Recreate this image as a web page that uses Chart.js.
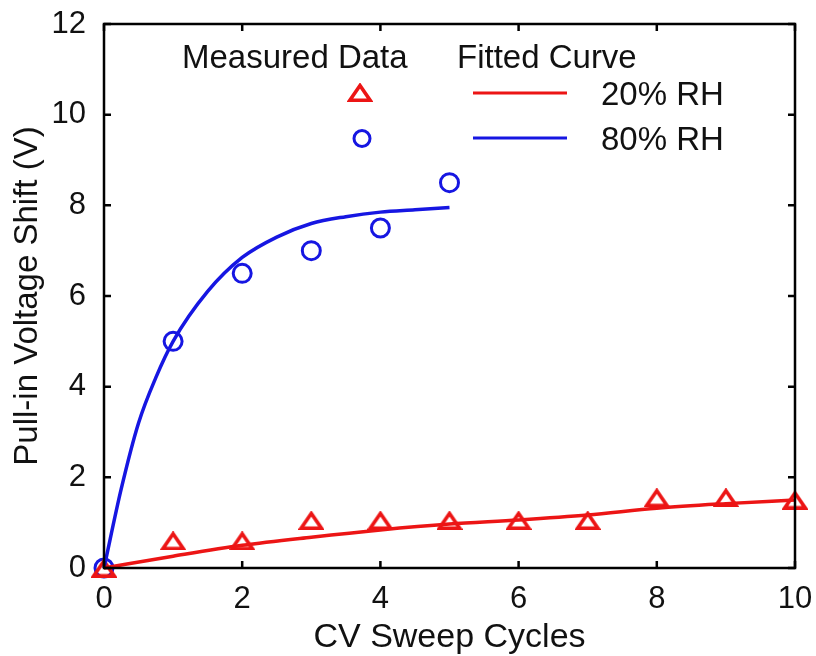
<!DOCTYPE html>
<html>
<head>
<meta charset="utf-8">
<script src="https://cdn.jsdelivr.net/npm/chart.js@4.4.1/dist/chart.umd.min.js"></script>
<style>
  html, body { margin: 0; padding: 0; background: #fff; }
  #wrap { width: 816px; height: 656px; }
</style>
</head>
<body>
<div id="wrap"><canvas id="pullInChart" width="816" height="656"></canvas></div>
<script>
const cycles20 = [0, 1, 2, 3, 4, 5, 6, 7, 8, 9, 10];
const shift20 = [0, 0.6, 0.6, 1.05, 1.05, 1.05, 1.05, 1.05, 1.55, 1.55, 1.5];
const cycles80 = [0, 1, 2, 3, 4, 5];
const shift80 = [0, 5.0, 6.5, 7.0, 7.5, 8.5];

// Fitted curves
const fitX20 = [0, 1, 2, 3, 4, 5, 6, 7, 8, 9, 10];
const fitY20 = [0, 0.26, 0.5, 0.68, 0.84, 0.97, 1.06, 1.17, 1.32, 1.42, 1.5];
const fitX80 = [0, 0.25, 0.5, 0.75, 1, 1.5, 2, 2.5, 3, 3.5, 4, 4.5, 5];
const fitY80 = [0, 1.75, 3.2, 4.2, 5.0, 6.1, 6.85, 7.3, 7.6, 7.75, 7.85, 7.9, 7.95];

const xTicks = [0, 2, 4, 6, 8, 10];
const yTicks = [0, 2, 4, 6, 8, 10, 12];

const RED = '#ec1515';
const BLUE = '#1616e2';
const FONT = 'Liberation Sans, Arial, Helvetica, sans-serif';

const toPts = (xs, ys) => xs.map((x, i) => ({ x: x, y: ys[i] }));

// squat hollow triangle used as the marker for the 20% RH points
function makeTriangle(w, h, lw) {
    const c = document.createElement('canvas');
    c.width = w; c.height = h;
    const g = c.getContext('2d');
    g.strokeStyle = RED;
    g.lineWidth = lw;
    g.lineJoin = 'miter';
    g.beginPath();
    g.moveTo(w / 2, lw * 0.7);
    g.lineTo(w - lw * 0.8, h - lw / 2);
    g.lineTo(lw * 0.8, h - lw / 2);
    g.closePath();
    g.stroke();
    return c;
}
const triMarker = makeTriangle(26, 19, 3.6);

// Box frame with inward ticks on all four sides
const framePlugin = {
    id: 'frame',
    afterDatasetsDraw(chart) {
        const { ctx, chartArea: a, scales } = chart;
        ctx.save();
        ctx.strokeStyle = '#000';
        ctx.lineWidth = 2.5;
        ctx.strokeRect(a.left, a.top, a.right - a.left, a.bottom - a.top);
        const len = 7;
        ctx.beginPath();
        xTicks.forEach(v => {
            const px = scales.x.getPixelForValue(v);
            ctx.moveTo(px, a.bottom); ctx.lineTo(px, a.bottom - len);
            ctx.moveTo(px, a.top); ctx.lineTo(px, a.top + len);
        });
        yTicks.forEach(v => {
            const py = scales.y.getPixelForValue(v);
            ctx.moveTo(a.left, py); ctx.lineTo(a.left + len, py);
            ctx.moveTo(a.right, py); ctx.lineTo(a.right - len, py);
        });
        ctx.stroke();
        ctx.restore();
    }
};

// Two-column legend drawn inside the plot
const legendPlugin = {
    id: 'inlineLegend',
    afterDraw(chart) {
        const { ctx } = chart;
        ctx.save();
        ctx.fillStyle = '#111';
        ctx.font = '33px ' + FONT;
        ctx.textBaseline = 'alphabetic';
        ctx.textAlign = 'left';
        ctx.fillText('Measured Data', 182, 68);
        ctx.fillText('Fitted Curve', 457, 68);
        ctx.fillText('20% RH', 601, 105);
        ctx.fillText('80% RH', 601, 150);

        ctx.drawImage(triMarker, 347, 83);
        ctx.lineWidth = 3;
        ctx.strokeStyle = RED;
        ctx.beginPath();
        ctx.moveTo(473, 93); ctx.lineTo(567, 93);
        ctx.stroke();

        ctx.strokeStyle = BLUE;
        ctx.beginPath();
        ctx.arc(362, 138.5, 8, 0, Math.PI * 2);
        ctx.stroke();
        ctx.beginPath();
        ctx.moveTo(473, 138); ctx.lineTo(567, 138);
        ctx.stroke();
        ctx.restore();
    }
};

const ctx = document.getElementById('pullInChart').getContext('2d');
const pullInChart = new Chart(ctx, {
    type: 'scatter',
    data: {
        datasets: [
            {
                label: '20% RH fit',
                data: toPts(fitX20, fitY20),
                showLine: true,
                borderColor: RED,
                borderWidth: 3.5,
                pointRadius: 0,
                cubicInterpolationMode: 'monotone'
            },
            {
                label: '80% RH fit',
                data: toPts(fitX80, fitY80),
                showLine: true,
                borderColor: BLUE,
                borderWidth: 3.5,
                pointRadius: 0,
                cubicInterpolationMode: 'monotone'
            },
            {
                label: '20% RH',
                data: toPts(cycles20, shift20),
                pointStyle: triMarker,
                pointRadius: 10,
                borderColor: RED,
                backgroundColor: 'rgba(0,0,0,0)'
            },
            {
                label: '80% RH',
                data: toPts(cycles80, shift80),
                pointStyle: 'circle',
                pointRadius: 9,
                pointBorderWidth: 3,
                borderColor: BLUE,
                backgroundColor: 'rgba(0,0,0,0)'
            }
        ]
    },
    options: {
        responsive: false,
        animation: false,
        clip: false,
        layout: { padding: { left: 0, right: 21, top: 24, bottom: 0 } },
        plugins: { legend: { display: false }, tooltip: { enabled: false } },
        scales: {
            x: {
                type: 'linear', min: 0, max: 10,
                afterFit: s => { s.height = 88; s.paddingLeft = 0; s.paddingRight = 0; },
                afterBuildTicks: s => { s.ticks = xTicks.map(v => ({ value: v })); },
                grid: { display: false },
                border: { display: false },
                ticks: { color: '#111', font: { family: FONT, size: 31 }, padding: 5 },
                title: {
                    display: true, text: 'CV Sweep Cycles', color: '#111',
                    font: { family: FONT, size: 34 }, padding: { top: 0, bottom: -2 }
                }
            },
            y: {
                type: 'linear', min: 0, max: 12,
                afterFit: s => { s.width = 104; s.paddingTop = 0; s.paddingBottom = 0; },
                afterBuildTicks: s => { s.ticks = yTicks.map(v => ({ value: v })); },
                grid: { display: false },
                border: { display: false },
                ticks: { color: '#111', font: { family: FONT, size: 31 }, padding: 10 },
                title: {
                    display: true, text: 'Pull-in Voltage Shift (V)', color: '#111',
                    font: { family: FONT, size: 33 }, padding: { top: 8, bottom: 0 }
                }
            }
        }
    },
    plugins: [framePlugin, legendPlugin]
});
</script>
</body>
</html>
